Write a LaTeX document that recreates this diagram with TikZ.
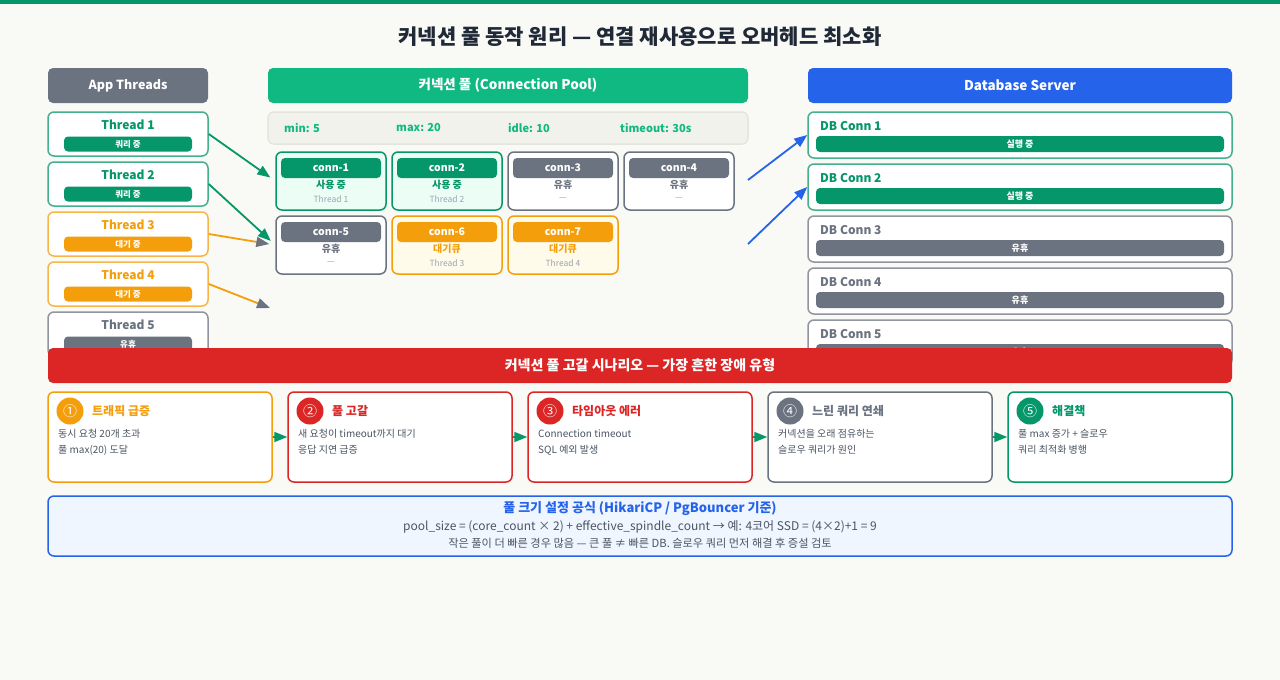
\documentclass[tikz,border=0pt]{standalone}
\usepackage{fontspec}
\setmainfont{Noto Sans CJK KR}
\usetikzlibrary{arrows.meta}

\definecolor{bgc}{HTML}{F9F9F6}
\definecolor{okgreen}{HTML}{059669}
\definecolor{poolgreen}{HTML}{10B981}
\definecolor{waitorange}{HTML}{F59E0B}
\definecolor{idlegray}{HTML}{6B7280}
\definecolor{failred}{HTML}{DC2626}
\definecolor{dbblue}{HTML}{2563EB}
\definecolor{titledark}{HTML}{1F2937}
\definecolor{bodygray}{HTML}{4B5563}
\definecolor{fadegray}{HTML}{9CA3AF}
\definecolor{usedfill}{HTML}{ECFDF5}
\definecolor{queuefill}{HTML}{FFFBEB}
\definecolor{notefill}{HTML}{EFF6FF}
\definecolor{parfill}{HTML}{F1F2EC}
\definecolor{parline}{HTML}{E4E5DE}

\newcommand{\fsz}[1]{\fontsize{#1}{#1}\selectfont}

\tikzset{
  header/.style={rounded corners=5pt, minimum width=#1, minimum height=35pt, inner sep=0pt, text=white, font=\bfseries\fsz{13.5}},
  card/.style={draw=#1, line width=1.5pt, fill=white, rounded corners=6pt, inner sep=0pt},
  badge/.style={fill=#1, rounded corners=4pt, text=white, inner sep=0pt, minimum height=15pt, font=\bfseries\fsz{8.5}},
  link/.style={line width=1.8pt, draw=#1},
  tipto/.style={-{Triangle[length=13pt, width=10pt, color=#1]}}
}

\begin{document}
\begin{tikzpicture}[x=1pt, y=-1pt]
        % Canvas and banners:
        \useasboundingbox (0,0) rectangle (1280,680);
        \fill[bgc] (0,0) rectangle (1280,680);
        \fill[okgreen] (0,0) rectangle (1280,4);
        \node[font=\bfseries\fsz{21}, text=titledark] (title) at (640,37) {커넥션 풀 동작 원리 — 연결 재사용으로 오버헤드 최소화};
        \node[header=160pt, fill=idlegray, font=\bfseries\fsz{12.5}] (apph) at (128,85.5) {App Threads};
        \node[header=480pt, fill=poolgreen] (poolh) at (508,85.5) {커넥션 풀 (Connection Pool)};
        \node[header=424pt, fill=dbblue] (dbh) at (1020,85.5) {Database Server};

        % App threads:
        \foreach \i/\c/\s in {1/okgreen/쿼리 중, 2/okgreen/쿼리 중, 3/waitorange/대기 중, 4/waitorange/대기 중, 5/idlegray/유휴} {
          \node[card=\c!75, minimum width=160pt, minimum height=44pt] (t\i) at (128,84+50*\i) {};
          \node[font=\bfseries\fsz{12}, text=\c] (tn\i) at (128,75+50*\i) {Thread \i};
          \node[badge=\c, minimum width=128pt] (tb\i) at (128,94+50*\i) {\s};
        }

        % Pool settings and connections:
        \node[draw=parline, fill=parfill, line width=1.5pt, rounded corners=6pt, minimum width=480pt, minimum height=32pt] (par) at (508,128) {};
        \foreach \x/\s [count=\k] in {284/min: 5, 396/max: 20, 508/idle: 10, 620/timeout: 30s}
          \node[anchor=west, inner sep=0pt, font=\bfseries\fsz{11}, text=poolgreen] (pv\k) at (\x,128) {\s};
        \foreach \i/\x/\y/\c/\f/\s/\w in {1/331/181/okgreen/usedfill/사용 중/Thread 1, 2/447/181/okgreen/usedfill/사용 중/Thread 2, 3/563/181/idlegray/white/유휴/—, 4/679/181/idlegray/white/유휴/—, 5/331/245/idlegray/white/유휴/—, 6/447/245/waitorange/queuefill/대기큐/Thread 3, 7/563/245/waitorange/queuefill/대기큐/Thread 4} {
          \node[card=\c, fill=\f, minimum width=110pt, minimum height=58pt] (c\i) at (\x,\y) {};
          \node[badge=\c, minimum width=100pt, minimum height=20pt, font=\bfseries\fsz{10.5}] (cb\i) at (\x,\y-13) {conn-\i};
          \node[font=\bfseries\fsz{10}, text=\c] (cs\i) at (\x,\y+3.5) {\s};
          \node[font=\fsz{8.5}, text=fadegray] (cw\i) at (\x,\y+18) {\w};
        }

        % Database connections:
        \foreach \i/\c/\s in {1/okgreen/실행 중, 2/okgreen/실행 중, 3/idlegray/유휴, 4/idlegray/유휴, 5/idlegray/유휴} {
          \node[card=\c!75, minimum width=424pt, minimum height=46pt] (d\i) at (1020,83+52*\i) {};
          \node[anchor=west, inner sep=0pt, font=\bfseries\fsz{12}, text=\c] (dn\i) at (820,74+52*\i) {DB Conn \i};
          \node[badge=\c, minimum width=408pt, minimum height=16pt, font=\bfseries\fsz{9}] (db\i) at (1020,92+52*\i) {\s};
        }

        % Wires:
        \coordinate (q4) at (270,308);
        \coordinate (p1) at (748,180);
        \coordinate (p2) at (748,244);
        \draw[link=okgreen, tipto=okgreen, shorten >=6pt] (t1.east) -- (c1.west);
        \draw[link=okgreen, tipto=okgreen, shorten >=6pt] (t2.east) -- (c5.west);
        \draw[link=waitorange, tipto=idlegray, shorten >=6pt] (t3.east) -- (c5.west);
        \draw[link=waitorange, tipto=idlegray] (t4.east) -- (q4);
        \draw[link=dbblue, tipto=dbblue] (p1) -- (d1.west);
        \draw[link=dbblue, tipto=dbblue] (p2) -- (d2.west);

        % Failure scenario:
        \node[header=1184pt, fill=failred, font=\bfseries\fsz{14}] (warn) at (640,365.5) {커넥션 풀 고갈 시나리오 — 가장 흔한 장애 유형};
        \foreach \i/\c/\n/\h/\a/\b in {1/waitorange/①/트래픽 급증/동시 요청 20개 초과/풀 max(20) 도달, 2/failred/②/풀 고갈/새 요청이 timeout까지 대기/응답 지연 급증, 3/failred/③/타임아웃 에러/Connection timeout/SQL 예외 발생, 4/idlegray/④/느린 쿼리 연쇄/커넥션을 오래 점유하는/슬로우 쿼리가 원인, 5/okgreen/⑤/해결책/풀 max 증가 + 슬로우/쿼리 최적화 병행} {
          \node[card=\c, minimum width=224pt, minimum height=90pt] (s\i) at (-80+240*\i,437) {};
          \node[circle, fill=\c, text=white, minimum size=27pt, inner sep=0pt, font=\fsz{14}] (sc\i) at (-170+240*\i,411) {\n};
          \node[anchor=west, inner sep=0pt, font=\bfseries\fsz{12}, text=\c] (sh\i) at (-148+240*\i,411) {\h};
          \node[anchor=west, inner sep=0pt, font=\fsz{10}, text=bodygray] (sa\i) at (-182+240*\i,434) {\a};
          \node[anchor=west, inner sep=0pt, font=\fsz{10}, text=bodygray] (sb\i) at (-182+240*\i,450) {\b};
        }
        \draw[link=okgreen, tipto=okgreen] (s1) -- (s2);
        \draw[link=okgreen, tipto=okgreen] (s2) -- (s3);
        \draw[link=okgreen, tipto=okgreen] (s3) -- (s4);
        \draw[link=okgreen, tipto=okgreen] (s4) -- (s5);

        % Sizing formula:
        \node[card=dbblue, fill=notefill, minimum width=1184pt, minimum height=60pt] (fbox) at (640,526) {};
        \node[font=\bfseries\fsz{13}, text=dbblue] (fh) at (640,509) {풀 크기 설정 공식 (HikariCP / PgBouncer 기준)};
        \node[font=\fsz{12}, text=bodygray] (fl1) at (640,527) {pool\_size = (core\_count × 2) + effective\_spindle\_count → 예: 4코어 SSD = (4×2)+1 = 9};
        \node[font=\fsz{11.2}, text=bodygray] (fl2) at (640,543) {작은 풀이 더 빠른 경우 많음 — 큰 풀 ≠ 빠른 DB. 슬로우 쿼리 먼저 해결 후 증설 검토};
\end{tikzpicture}
\end{document}
